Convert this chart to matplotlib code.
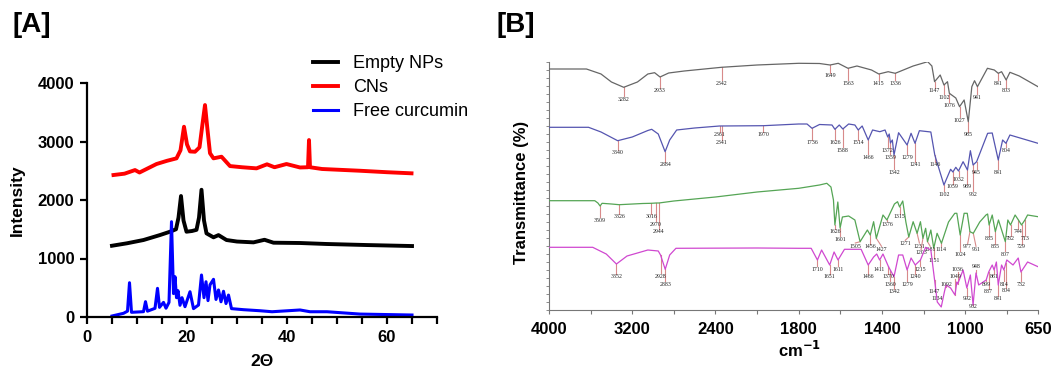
import numpy as np
import matplotlib
matplotlib.use('Agg')
import matplotlib.pyplot as plt

plt.rcParams['font.family'] = ['Liberation Sans', 'DejaVu Sans']

# ---------------- panel A : XRD ----------------
np_2t = [5, 8, 11.3, 14.6, 16.6, 17.8, 18.3, 18.8, 19.3, 19.9, 21.0, 21.9, 22.4, 22.9, 23.4,
         23.9, 25.3, 26.3, 27.9, 30, 33.3, 35.5, 37.3, 42.6, 47.9, 56, 65]
np_int = [1218, 1260, 1316, 1401, 1458, 1500, 1700, 2068, 1650, 1458, 1470, 1490, 1700, 2175, 1650,
          1430, 1362, 1400, 1316, 1290, 1276, 1320, 1270, 1265, 1248, 1230, 1213]

cn_2t = [5.3, 7.5, 9.6, 10.5, 13.9, 16, 17.9, 18.7, 19.4, 20.0, 20.6, 21.6, 22.5, 23.1, 23.6, 24.1,
         24.6, 25.3, 26.9, 28.6, 31, 33.9, 36.0, 37.5, 39.9, 42.6, 44.2, 44.4, 44.6, 47, 54.6, 60, 64.9]
cn_int = [2427, 2450, 2512, 2470, 2615, 2670, 2712, 2850, 3252, 2950, 2830, 2825, 2900, 3300, 3623, 3200,
          2800, 2712, 2740, 2580, 2560, 2541, 2610, 2560, 2615, 2556, 2560, 3025, 2560, 2530, 2500, 2475, 2456]

cur_2t = [5, 7.3, 8.1, 8.5, 8.9, 11.3, 11.7, 12.1, 13.6, 14.1, 14.5, 15.3, 15.8, 16.4, 16.9, 17.3, 17.6,
          17.9, 18.2, 18.6, 19.0, 19.6, 20.6, 21.3, 22.3, 22.9, 23.4, 23.8, 24.2, 24.6, 25.3, 25.8, 26.3,
          26.8, 27.3, 27.8, 28.3, 28.9, 31.3, 34.6, 37, 42.6, 44.6, 48, 54.6, 65]
cur_int = [17, 63, 100, 586, 80, 91, 262, 100, 148, 490, 165, 250, 150, 250, 1629, 400, 689,
           330, 450, 200, 330, 176, 432, 143, 205, 718, 330, 603, 280, 550, 644, 300, 462,
           260, 440, 230, 375, 143, 125, 107, 90, 120, 90, 90, 50, 34]

# ---------------- panel B : FTIR ----------------
# curve heights in arbitrary transmittance units (stacked)
g_w = [4000, 3640, 3500, 3400, 3282, 3150, 3050, 2985, 2933, 2850, 2700, 2342, 2000, 1800, 1700, 1649,
       1610, 1563, 1520, 1450, 1415, 1370, 1336, 1250, 1180, 1160, 1147, 1120, 1102, 1085, 1076, 1045,
       1027, 1005, 985, 968, 955, 941, 893, 860, 841, 825, 803, 785, 740, 650]
g_t = [241, 241, 236, 228, 222.7, 228, 236, 237.3, 233, 237, 239, 242.7, 245, 246.7, 246.5, 245,
       246.7, 241.7, 244, 240, 236, 238.3, 236.7, 244, 248.3, 244, 228.3, 235, 225, 228.3, 216.7, 212,
       203.3, 210, 188.3, 223.3, 229.3, 223.3, 241.7, 240, 236.7, 238.3, 230, 237.7, 234, 223.3]
g_pk = [3282, 2933, 2342, 1649, 1563, 1415, 1336, 1147, 1102, 1076, 1027, 985, 941, 841, 803]
g_lab = [210.7, 219.3, 226.7, 234.3, 226.7, 226.7, 226.7, 219.3, 212.7, 204.7, 190, 175.3, 212.7, 226.7, 219.3]

b_w = [4000, 3620, 3500, 3340, 3200, 3050, 3013, 2950, 2884, 2840, 2773, 2600, 2361, 1970, 1800, 1760,
       1736, 1700, 1640, 1626, 1605, 1588, 1560, 1530, 1514, 1495, 1466, 1445, 1410, 1385, 1372, 1365,
       1359, 1350, 1342, 1320, 1279, 1260, 1241, 1220, 1165, 1146, 1102, 1070, 1059, 1045, 1032, 1010,
       989, 975, 962, 945, 892, 870, 841, 820, 804, 785, 650]
b_t = [182.7, 182.7, 178, 169.3, 173, 179.5, 180.7, 176, 158.3, 170, 180, 182, 184, 184.3, 186, 186,
       181.7, 185.5, 185, 180.7, 185, 181, 186, 185, 180, 184, 170, 180, 178.3, 180, 173, 176,
       167, 170, 155, 177.3, 165, 176.7, 166.7, 179.3, 178, 155, 125, 140.7, 138, 142.7, 139, 148.3,
       140, 159.3, 145, 148.3, 176.7, 177, 150, 170, 166.7, 175, 166.7]
b_pk = [3340, 2884, 2361, 2341, 1970, 1736, 1626, 1588, 1514, 1466, 1372, 1359, 1342, 1279, 1241, 1146,
        1102, 1059, 1032, 989, 962, 945, 841, 804]
b_lab = [157.3, 145.3, 175, 167.3, 175, 167.3, 167.3, 160, 167.3, 152.7, 160, 152.7, 137.7, 152.7, 145.3, 145.3,
         115.7, 123.3, 130.7, 123.3, 115.7, 137.7, 137.7, 160]

gr_w = [4000, 3560, 3530, 3509, 3490, 3400, 3326, 3100, 3016, 2970, 2944, 2800, 2400, 2000, 1800, 1700,
        1665, 1645, 1633, 1626, 1612, 1601, 1590, 1560, 1530, 1505, 1470, 1456, 1440, 1427, 1395, 1376,
        1340, 1325, 1315, 1300, 1285, 1271, 1250, 1231, 1215, 1203, 1190, 1181, 1165, 1151, 1135, 1114,
        1080, 1050, 1040, 1024, 1005, 990, 977, 961, 930, 900, 892, 885, 870, 855, 840, 807, 795, 782,
        760, 744, 729, 713, 700, 650]
gr_t = [109.3, 109.3, 107, 104, 106.7, 106, 105.3, 106.5, 106.7, 107, 107, 109, 113, 118, 121.7, 125,
        126.7, 123, 110, 85, 108, 82, 93, 94, 90, 68.3, 80, 75, 88.3, 71.7, 95, 90,
        106, 108.3, 103, 109, 88, 73, 88.3, 76.7, 88.3, 71.7, 81.7, 68.3, 80, 61.7, 76.7, 66.7,
        88, 96.7, 96.7, 75, 96.7, 96.7, 78.3, 76.7, 88, 95, 96, 85, 95, 78.3, 90, 68.3, 90, 85,
        95, 90, 85, 90, 95, 93.3]
gr_pk = [3509, 3326, 3016, 2970, 2944, 1626, 1601, 1505, 1456, 1427, 1376, 1315, 1271, 1231, 1203, 1181,
         1151, 1114, 1024, 977, 961, 885, 855, 807, 782, 744, 729, 713]
gr_lab = [90, 93.3, 93.3, 85.7, 78.3, 78.3, 70.7, 64, 63.3, 60.7, 85.7, 93.3, 66.7, 64, 57.3, 60.7,
          49, 60.7, 56, 63.3, 60.7, 71, 63.3, 56, 71, 78.3, 63.3, 71]

m_w = [4000, 3580, 3450, 3352, 3250, 3050, 2950, 2928, 2883, 2840, 2780, 2000, 1800, 1740, 1710, 1690,
       1651, 1630, 1611, 1580, 1500, 1466, 1440, 1425, 1411, 1395, 1370, 1360, 1342, 1320, 1300, 1279,
       1260, 1240, 1215, 1190, 1165, 1147, 1134, 1115, 1100, 1092, 1070, 1049, 1040, 1036, 1010, 992,
       975, 962, 948, 935, 899, 887, 870, 861, 850, 841, 825, 814, 800, 770, 745, 732, 700, 650]
m_t = [62.7, 62.7, 56, 46, 54, 60, 59, 55, 40.7, 55, 61.7, 62, 61.7, 61.7, 50, 60,
       45, 58, 50, 60.7, 60.7, 45, 53, 56, 50, 56, 44, 40, 33.3, 55, 55, 40,
       52, 45, 50, 62.7, 60, 30, 8, 3, 18, 25, 22, 15, 28, 26, 40, 22,
       35, 5, 37, 25, 30, 38, 45, 40, 48, 25, 45, 40, 50, 45, 52, 38, 48, 43.3]
m_pk = [3352, 2928, 2883, 1710, 1651, 1611, 1466, 1411, 1370, 1360, 1342, 1279, 1240, 1215, 1147, 1134,
        1092, 1049, 1036, 992, 962, 948, 899, 887, 861, 841, 814, 804, 732]
m_lab = [33.3, 34, 26, 40.7, 33.3, 40.7, 33.3, 40.7, 33.3, 26, 18.3, 26, 33.3, 40.7, 18.3, 11,
         26, 34, 40.7, 11, 3.3, 43.3, 26, 18.3, 33.3, 11, 26, 19.3, 26]

# labels that sit beside their line (label wavenumber position)
lab_shift = {1505: 1528, 1427: 1402, 1271: 1288, 1231: 1220, 1203: 1212, 1181: 1168,
             977: 988, 961: 948}

fig = plt.figure(figsize=(10.56, 3.73), dpi=100)

# ---- A ----
axA = fig.add_axes([87/1056, 56/373, 350/1056, 234/373])
axA.plot(np_2t, np_int, color='black', lw=2.8, label='Empty NPs')
axA.plot(cn_2t, cn_int, color='#ff0000', lw=2.8, label='CNs')
axA.plot(cur_2t, cur_int, color='#0000ff', lw=2.2, label='Free curcumin')
axA.set_xlim(0, 70); axA.set_ylim(0, 4000)
for s in ('top', 'right'): axA.spines[s].set_visible(False)
for s in ('left', 'bottom'): axA.spines[s].set_linewidth(1.6)
axA.set_xticks([0, 20, 40, 60])
axA.set_xticks(np.arange(0, 71, 5), minor=True)
axA.set_yticks([0, 1000, 2000, 3000, 4000])
axA.tick_params(which='both', width=1.6, length=5, labelsize=12, pad=4)
for t in axA.get_xticklabels() + axA.get_yticklabels(): t.set_fontweight('bold')
axA.set_ylabel('Intensity', fontsize=12.5, fontweight='bold')
axA.yaxis.set_label_coords(-0.177, 0.5)
axA.set_xlabel('2\u0398', fontsize=12.5, fontweight='bold')
axA.xaxis.set_label_coords(0.5, -0.16)
fig.legend(loc='upper left', bbox_to_anchor=(304/1056, 1 - 46/373), frameon=False, fontsize=13,
           borderpad=0, handlelength=1.39, handletextpad=0.83, labelspacing=0.39)
fig.text(12/1056, 1 - 12/373, '[A]', fontsize=20, fontweight='bold', va='top', ha='left')

# ---- B ----
def fwd(w):
    w = np.asarray(w, float)
    return np.where(w >= 2000, w / 800.0, (w - 1000) / 400.0)

def inv(v):
    v = np.asarray(v, float)
    return np.where(v >= 2.5, v * 800.0, v * 400.0 + 1000)

axB = fig.add_axes([549/1056, 63/373, 489/1056, 248/373])
axB.set_xscale('function', functions=(fwd, inv))
curves = [(g_w, g_t, g_pk, g_lab, '#666666', False),
          (b_w, b_t, b_pk, b_lab, '#5555b0', False),
          (gr_w, gr_t, gr_pk, gr_lab, '#55a555', True),
          (m_w, m_t, m_pk, m_lab, '#d048d0', False)]
for w, t, pk, lab, col, shifted in curves:
    axB.plot(w, t, color=col, lw=0.9, zorder=3)
    cv = np.interp(pk, w[::-1], t[::-1])
    for p, c, l in zip(pk, cv, lab):
        lx = lab_shift.get(p, p) if shifted else p
        end = l + 3 if l < c else l - 3
        axB.plot([p, lx], [c, end], color='#d88a8a', lw=0.8, zorder=2)
        axB.text(lx, l, str(p), fontsize=4.2, family='Liberation Serif', ha='center', va='center',
                 color='#222222')
axB.set_xlim(4000, 650); axB.set_ylim(0, 248)
for s in ('top', 'right'): axB.spines[s].set_visible(False)
for s in ('left', 'bottom'):
    axB.spines[s].set_linewidth(0.8); axB.spines[s].set_color('#777777')
axB.set_xticks([4000, 3200, 2400, 1800, 1400, 1000, 650])
axB.set_xticks([3600, 2800, 2000, 1600, 1200, 800], minor=True)
axB.set_yticks(np.arange(0, 249, 8))
axB.set_yticklabels([])
axB.tick_params(axis='x', which='both', length=3, width=0.8, color='#777777', labelsize=12, pad=6)
axB.tick_params(axis='y', length=2, width=0.6, color='#777777')
for t in axB.get_xticklabels(): t.set_fontweight('bold')
axB.set_ylabel('Transmittance (%)', fontsize=12, fontweight='bold')
axB.yaxis.set_label_coords(-0.04, 0.476)
axB.set_xlabel('cm$^{\\mathbf{-1}}$', fontsize=12, fontweight='bold')
axB.xaxis.set_label_coords(0.513, -0.12)
fig.text(497/1056, 1 - 12/373, '[B]', fontsize=20, fontweight='bold', va='top', ha='left')

fig.savefig('out.png', dpi=100)
